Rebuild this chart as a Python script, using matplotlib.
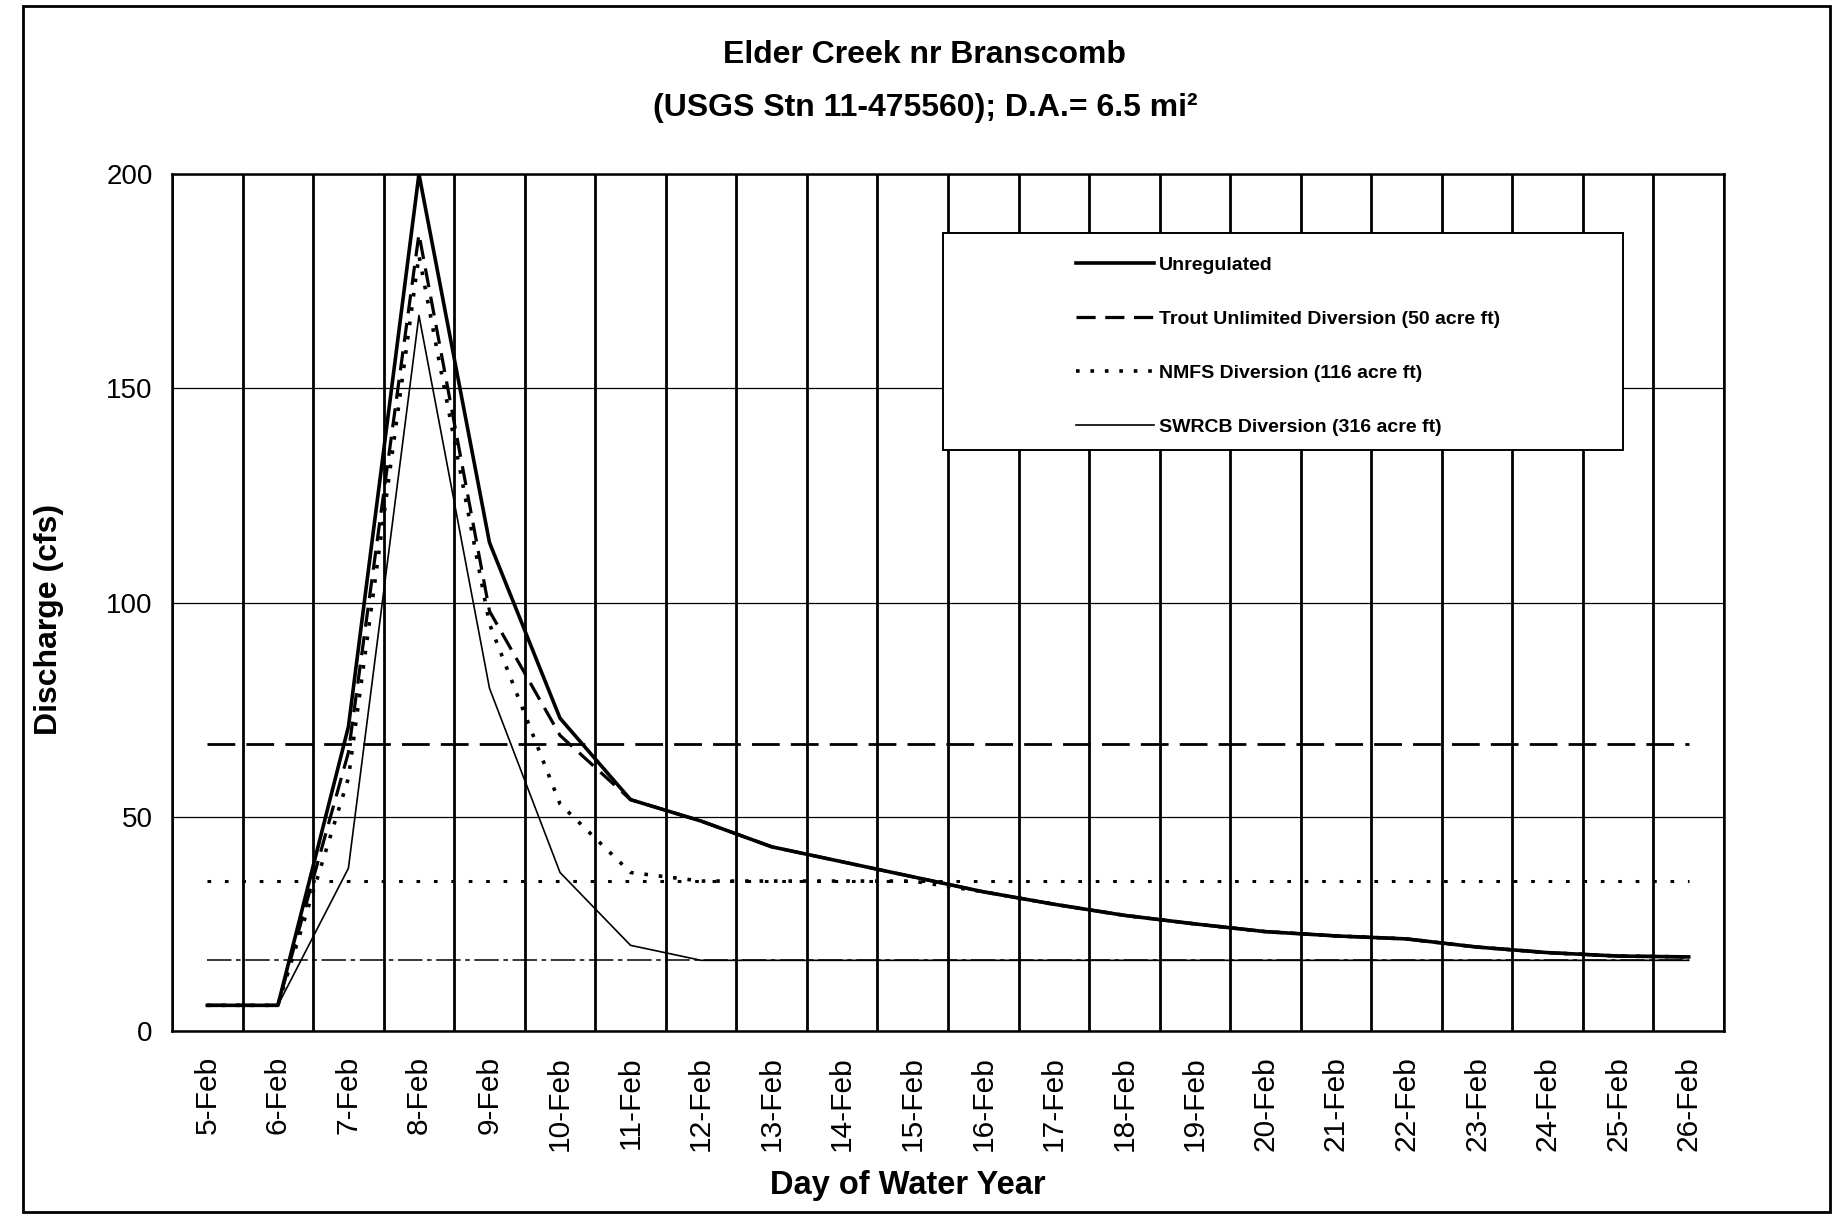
import matplotlib
matplotlib.use("Agg")
import matplotlib.pyplot as plt
from matplotlib.patches import Rectangle
from matplotlib import font_manager as fm
import numpy as np

plt.rcParams['font.family'] = ['Liberation Sans', 'DejaVu Sans']

# ---------------- data ----------------
days = ['5-Feb', '6-Feb', '7-Feb', '8-Feb', '9-Feb', '10-Feb', '11-Feb', '12-Feb',
        '13-Feb', '14-Feb', '15-Feb', '16-Feb', '17-Feb', '18-Feb', '19-Feb',
        '20-Feb', '21-Feb', '22-Feb', '23-Feb', '24-Feb', '25-Feb', '26-Feb']

unregulated = [6, 6, 71, 200, 114, 73, 54, 49, 43, 39.5, 36, 32.5, 29.6, 27,
               25, 23.2, 22.2, 21.5, 19.6, 18.3, 17.5, 17.3]
trout_unlimited = [6, 6, 65, 186, 98, 69, 54, 49, 43, 39.5, 36, 32.5, 29.6, 27,
                   25, 23.2, 22.2, 21.5, 19.6, 18.3, 17.5, 17.3]
nmfs = [6, 6, 59, 181, 95, 53, 37, 35, 35, 35, 35, 32.5, 29.6, 27,
        25, 23.2, 22.2, 21.5, 19.6, 18.3, 17.5, 17.3]
swrcb = [6, 6, 38, 167, 80, 37, 20, 16.5, 16.5, 16.5, 16.5, 16.5, 16.5, 16.5,
         16.5, 16.5, 16.5, 16.5, 16.5, 16.5, 16.5, 16.5]

# bypass (minimum flow) levels
tu_bypass = 67
nmfs_bypass = 35
swrcb_bypass = 16.5

labels = ['Unregulated', 'Trout Unlimited Diversion (50 acre ft)',
          'NMFS Diversion (116 acre ft)', 'SWRCB Diversion (316 acre ft)']

# ---------------- figure ----------------
fig = plt.figure(figsize=(18.44, 12.17), dpi=100)
ax = fig.add_axes([0.0933, 0.1528, 0.8416, 0.7042])

x = np.arange(len(days))
n = len(days)

# bypass lines
ax.plot(x, [tu_bypass] * n, color='black', lw=2.0, ls=(0, (10, 4)), zorder=2)
ax.plot(x, [nmfs_bypass] * n, color='black', lw=2.2, ls=(0, (1.2, 4.5)), zorder=2)
ax.plot(x, [swrcb_bypass] * n, color='black', lw=1.1, ls=(0, (16, 3, 3, 3)), zorder=2)

# series
l1, = ax.plot(x, unregulated, color='black', lw=2.6, zorder=3)
l2, = ax.plot(x, trout_unlimited, color='black', lw=2.3, ls=(0, (6, 3)), zorder=3)
l3, = ax.plot(x, nmfs, color='black', lw=2.6, ls=(0, (1, 3)), zorder=3)
l4, = ax.plot(x, swrcb, color='black', lw=1.2, zorder=3)

# axes
ax.set_xlim(-0.5, n - 0.5)
ax.set_ylim(0, 200)
ax.set_xticks(x)
ax.set_xticklabels(days, rotation=90)
ax.set_xticks(np.arange(-0.5, n), minor=True)
ax.set_yticks([0, 50, 100, 150, 200])
ax.tick_params(axis='x', which='both', length=0, pad=18, labelsize=21.5)
ax.tick_params(axis='y', which='both', length=0, pad=14, labelsize=20)
ax.grid(which='minor', axis='x', color='black', lw=2.0)
ax.grid(which='major', axis='y', color='black', lw=0.9)
ax.grid(which='major', axis='x', visible=False)
ax.set_axisbelow(True)
for s in ax.spines.values():
    s.set_linewidth(1.8)
    s.set_color('black')

ax.set_ylabel('Discharge (cfs)', fontsize=23, fontweight='bold', va='center')
ax.yaxis.set_label_coords(-0.079, 0.48)
ax.set_xlabel('Day of Water Year', fontsize=23.5, fontweight='bold', va='top')
ax.xaxis.set_label_coords(0.474, -0.162)

# titles
fig.text(0.5016, 0.9548, 'Elder Creek nr Branscomb', ha='center', va='center',
         fontsize=23, fontweight='bold')
fig.text(0.5016, 0.9113, '(USGS Stn 11-475560); D.A.= 6.5 mi\u00b2', ha='center',
         va='center', fontsize=23, fontweight='bold')

# legend
names = {f.name for f in fm.fontManager.ttflist}
if 'Liberation Sans Narrow' in names:
    leg_font = dict(family='Liberation Sans Narrow', size=16.5, weight='bold')
else:
    leg_font = dict(family='Liberation Sans', size=14, weight='bold')

ax.add_patch(Rectangle((0.497, 0.678), 0.438, 0.253, transform=ax.transAxes,
                       facecolor='white', edgecolor='black', lw=1.4, zorder=4))
leg = ax.legend([l1, l2, l3, l4], labels, loc='upper left',
                bbox_to_anchor=(0.5825, 0.904), frameon=False, borderpad=0,
                borderaxespad=0, handlelength=4.0, handletextpad=0.25,
                labelspacing=1.87, prop=leg_font)
leg.set_zorder(5)

# outer border
fig.add_artist(Rectangle((0.0125, 0.004), 0.98, 0.991, transform=fig.transFigure,
                         facecolor='none', edgecolor='black', lw=2.0))

fig.savefig('out.png', dpi=100)
